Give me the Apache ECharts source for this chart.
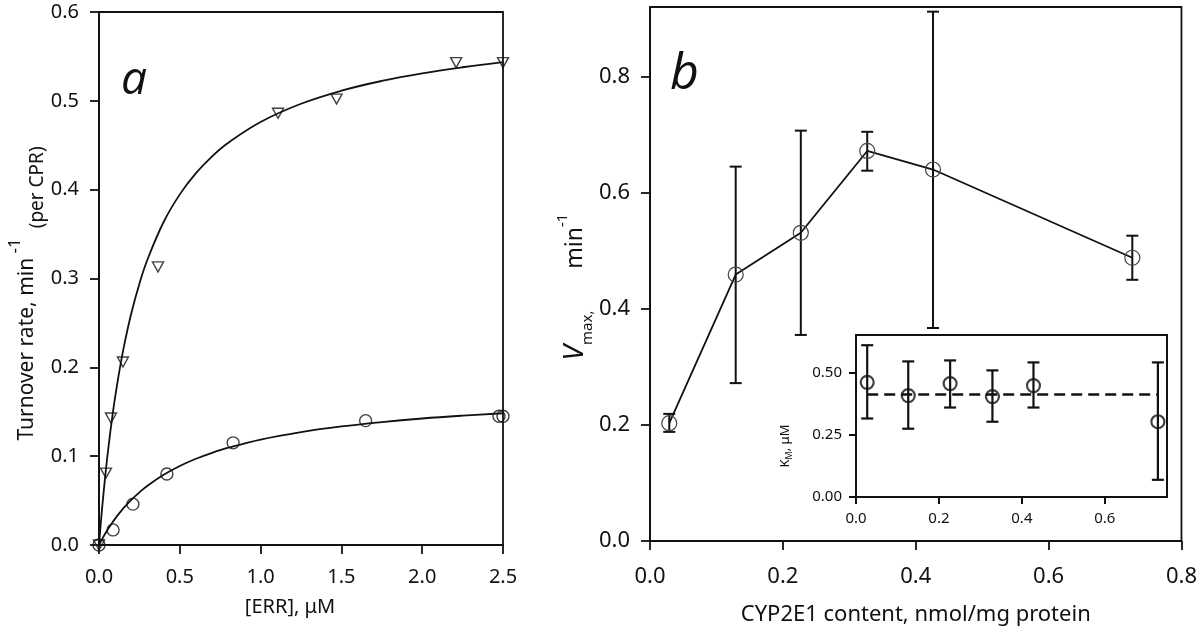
<!DOCTYPE html>
<html>
<head>
<meta charset="utf-8">
<script src="https://cdn.jsdelivr.net/npm/echarts@6/dist/echarts.min.js"></script>
<style>
html,body{margin:0;padding:0;background:#fff;}
#chart{width:1200px;height:631px;}
</style>
</head>
<body>
<div id="chart"></div>
<script>
// ---- Panel a data ----
const triX = [0, 0.043, 0.074, 0.148, 0.365, 1.108, 1.47, 2.21, 2.5];
const triY = [0, 0.081, 0.143, 0.206, 0.313, 0.486, 0.502, 0.543, 0.543];
const circX = [0, 0.087, 0.21, 0.42, 0.83, 1.65, 2.475, 2.5];
const circY = [0, 0.017, 0.046, 0.080, 0.115, 0.140, 0.145, 0.145];
const fitX = [0, 0.01, 0.02, 0.04, 0.06, 0.08, 0.1, 0.13, 0.16, 0.2, 0.25, 0.3, 0.4, 0.5, 0.6, 0.7, 0.8, 1.0, 1.25, 1.5, 1.75, 2.0, 2.25, 2.5];
const triFitY = [0, 0.0222, 0.0429, 0.08, 0.1125, 0.1412, 0.1667, 0.2, 0.2286, 0.2609, 0.2941, 0.3214, 0.3636, 0.3947, 0.4186, 0.4375, 0.4528, 0.4762, 0.4967, 0.5114, 0.5224, 0.5310, 0.5378, 0.5435];
const circFitY = [0, 0.0035, 0.0068, 0.0132, 0.0191, 0.0246, 0.0297, 0.0367, 0.0432, 0.0509, 0.0593, 0.0668, 0.0791, 0.089, 0.0971, 0.1038, 0.1095, 0.1187, 0.1271, 0.1335, 0.1384, 0.1424, 0.1456, 0.1483];
const aXTicks = [0, 0.5, 1.0, 1.5, 2.0, 2.5];
const aYTicks = [0, 0.1, 0.2, 0.3, 0.4, 0.5, 0.6];

// ---- Panel b data ----
const cypX = [0.029, 0.129, 0.227, 0.327, 0.426, 0.726];
const vmax = [0.203, 0.459, 0.531, 0.672, 0.640, 0.488];
const vmaxLo = [0.188, 0.272, 0.355, 0.638, 0.367, 0.450];
const vmaxHi = [0.219, 0.645, 0.707, 0.705, 0.912, 0.526];
const bXTicks = [0, 0.2, 0.4, 0.6, 0.8];
const bYTicks = [0, 0.2, 0.4, 0.6, 0.8];

// ---- Inset data ----
const kmX = [0.027, 0.126, 0.227, 0.329, 0.428, 0.728];
const km = [0.460, 0.407, 0.455, 0.403, 0.447, 0.302];
const kmLo = [0.315, 0.274, 0.359, 0.302, 0.359, 0.069];
const kmHi = [0.609, 0.544, 0.548, 0.508, 0.540, 0.540];
const kmMeanX = [0.027, 0.728];
const kmMeanY = [0.411, 0.411];
const insetXTicks = [0, 0.2, 0.4, 0.6];
const insetYTicks = [0, 0.25, 0.5];

const FONT = 'Noto Sans';
const INK = '#111';
const zip = (a, b) => a.map((v, i) => [v, b[i]]);
const zip3 = (a, b, c) => a.map((v, i) => [v, b[i], c[i]]);

function errBar(capHalf, lw) {
  return function (params, api) {
    const x = api.value(0), lo = api.value(1), hi = api.value(2);
    const p1 = api.coord([x, lo]);
    const p2 = api.coord([x, hi]);
    const st = { stroke: INK, lineWidth: lw };
    return {
      type: 'group',
      children: [
        { type: 'line', shape: { x1: p1[0], y1: p1[1], x2: p2[0], y2: p2[1] }, style: st },
        { type: 'line', shape: { x1: p1[0] - capHalf, y1: p1[1], x2: p1[0] + capHalf, y2: p1[1] }, style: st },
        { type: 'line', shape: { x1: p2[0] - capHalf, y1: p2[1], x2: p2[0] + capHalf, y2: p2[1] }, style: st }
      ]
    };
  };
}

function axisCommon(fontSize, digits, ticks, margin, tickLen, lw) {
  return {
    axisLine: { show: true, onZero: false, lineStyle: { color: INK, width: lw } },
    axisTick: { show: true, inside: false, length: tickLen, lineStyle: { color: INK, width: lw }, customValues: ticks },
    axisLabel: { show: true, color: INK, fontFamily: FONT, fontSize: fontSize, margin: margin, customValues: ticks,
      formatter: v => Number(v).toFixed(digits) },
    splitLine: { show: false }
  };
}

const chart = echarts.init(document.getElementById('chart'), null, { renderer: 'canvas' });

const option = {
  backgroundColor: '#fff',
  animation: false,
  grid: [
    { left: 99, top: 12, width: 404, height: 533, show: true, borderColor: INK, borderWidth: 1.8, backgroundColor: 'transparent' },
    { left: 650, top: 7, width: 533, height: 534, show: true, borderColor: INK, borderWidth: 1.8, backgroundColor: 'transparent' },
    { left: 856, top: 335, width: 311, height: 162, show: true, borderColor: INK, borderWidth: 2, backgroundColor: '#fff', z: 5 }
  ],
  xAxis: [
    Object.assign({ type: 'value', gridIndex: 0, min: 0, max: 2.5, interval: 0.5,
      name: '[ERR], μM', nameLocation: 'middle', nameGap: 52,
      nameTextStyle: { fontFamily: FONT, fontSize: 20, color: INK, padding: [0, 22, 0, 0] } },
      axisCommon(20, 1, aXTicks, 22, 9, 1.8)),
    Object.assign({ type: 'value', gridIndex: 1, min: 0, max: 0.8, interval: 0.2,
      name: 'CYP2E1 content, nmol/mg protein', nameLocation: 'middle', nameGap: 63,
      nameTextStyle: { fontFamily: FONT, fontSize: 22, color: INK } },
      axisCommon(22, 1, bXTicks, 25, 9, 1.8)),
    Object.assign({ type: 'value', gridIndex: 2, min: 0, max: 0.75, z: 6 },
      axisCommon(15, 1, insetXTicks, 14, 7, 2))
  ],
  yAxis: [
    Object.assign({ type: 'value', gridIndex: 0, min: 0, max: 0.6, interval: 0.1,
      name: '{m|Turnover rate, min}{s| -1}{p|  (per CPR)}', nameLocation: 'middle', nameGap: 50,
      nameTextStyle: { fontFamily: FONT, fontSize: 21, color: INK, padding: [0, 30, 0, 0],
        rich: {
          m: { fontFamily: FONT, fontSize: 21, color: INK, lineHeight: 40 },
          s: { fontFamily: FONT, fontSize: 17, color: INK, lineHeight: 17, verticalAlign: 'top' },
          p: { fontFamily: FONT, fontSize: 19, color: INK, lineHeight: 19, verticalAlign: 'bottom' }
        } } },
      axisCommon(20, 1, aYTicks, 20, 9, 1.8)),
    Object.assign({ type: 'value', gridIndex: 1, min: 0, max: 0.92,
      name: '{v|V}{b|max,}{m|       min}{s|-1}', nameLocation: 'middle', nameGap: 52,
      nameTextStyle: { fontFamily: FONT, fontSize: 22, color: INK, padding: [0, 26, 0, 0],
        rich: {
          v: { fontFamily: FONT, fontSize: 28, fontStyle: 'italic', color: INK, lineHeight: 40 },
          b: { fontFamily: FONT, fontSize: 15, color: INK, lineHeight: 15, verticalAlign: 'bottom' },
          m: { fontFamily: FONT, fontSize: 23, color: INK, lineHeight: 40 },
          s: { fontFamily: FONT, fontSize: 15, color: INK, lineHeight: 15, verticalAlign: 'top' }
        } } },
      axisCommon(22, 1, bYTicks, 20, 9, 1.8)),
    Object.assign({ type: 'value', gridIndex: 2, min: 0, max: 0.65, z: 6,
      name: '{k|K}{b|M}{k|, μM}', nameLocation: 'middle', nameGap: 62,
      nameTextStyle: { fontFamily: FONT, fontSize: 13, color: INK, padding: [0, 60, 0, 0],
        rich: {
          k: { fontFamily: FONT, fontSize: 13, color: INK, lineHeight: 18 },
          b: { fontFamily: FONT, fontSize: 9, color: INK, lineHeight: 9, verticalAlign: 'bottom' }
        } } },
      axisCommon(15, 2, insetYTicks, 14, 7, 2))
  ],
  graphic: [
    { type: 'text', left: 121, top: 58, z: 10,
      style: { text: 'a', fontFamily: 'Open Sans', fontStyle: 'italic', fontSize: 46, fill: INK } },
    { type: 'text', left: 670, top: 50, z: 10,
      style: { text: 'b', fontFamily: 'Open Sans', fontStyle: 'italic', fontSize: 50, fill: INK } }
  ],
  series: [
    { name: 'fit triangles', type: 'line', xAxisIndex: 0, yAxisIndex: 0, data: zip(fitX, triFitY),
      smooth: 0.4, showSymbol: false, symbol: 'none', lineStyle: { color: INK, width: 1.8 } },
    { name: 'fit circles', type: 'line', xAxisIndex: 0, yAxisIndex: 0, data: zip(fitX, circFitY),
      smooth: 0.4, showSymbol: false, symbol: 'none', lineStyle: { color: INK, width: 1.8 } },
    { name: 'triangles', type: 'scatter', xAxisIndex: 0, yAxisIndex: 0, data: zip(triX, triY),
      symbol: 'triangle', symbolRotate: 180, symbolSize: [11, 10],
      itemStyle: { color: 'rgba(0,0,0,0)', borderColor: INK, borderWidth: 1.4 } },
    { name: 'circles', type: 'scatter', xAxisIndex: 0, yAxisIndex: 0, data: zip(circX, circY),
      symbol: 'circle', symbolSize: 12,
      itemStyle: { color: 'rgba(0,0,0,0)', borderColor: INK, borderWidth: 1.4 } },

    { name: 'Vmax err', type: 'custom', xAxisIndex: 1, yAxisIndex: 1, data: zip3(cypX, vmaxLo, vmaxHi),
      renderItem: errBar(6, 2), encode: { x: 0, y: [1, 2] }, z: 3 },
    { name: 'Vmax', type: 'line', xAxisIndex: 1, yAxisIndex: 1, data: zip(cypX, vmax),
      symbol: 'circle', symbolSize: 15, showSymbol: true,
      lineStyle: { color: INK, width: 1.8 },
      itemStyle: { color: 'rgba(0,0,0,0)', borderColor: '#444', borderWidth: 1.2 }, z: 4 },

    { name: 'Km mean', type: 'line', xAxisIndex: 2, yAxisIndex: 2, data: zip(kmMeanX, kmMeanY),
      symbol: 'none', lineStyle: { color: INK, width: 2.4, type: [11, 6] }, z: 6 },
    { name: 'Km err', type: 'custom', xAxisIndex: 2, yAxisIndex: 2, data: zip3(kmX, kmLo, kmHi),
      renderItem: errBar(6, 2.2), encode: { x: 0, y: [1, 2] }, z: 7 },
    { name: 'Km', type: 'scatter', xAxisIndex: 2, yAxisIndex: 2, data: zip(kmX, km),
      symbol: 'circle', symbolSize: 13,
      itemStyle: { color: 'rgba(0,0,0,0)', borderColor: INK, borderWidth: 2.2 }, z: 8 }
  ]
};
chart.setOption(option);
</script>
</body>
</html>
